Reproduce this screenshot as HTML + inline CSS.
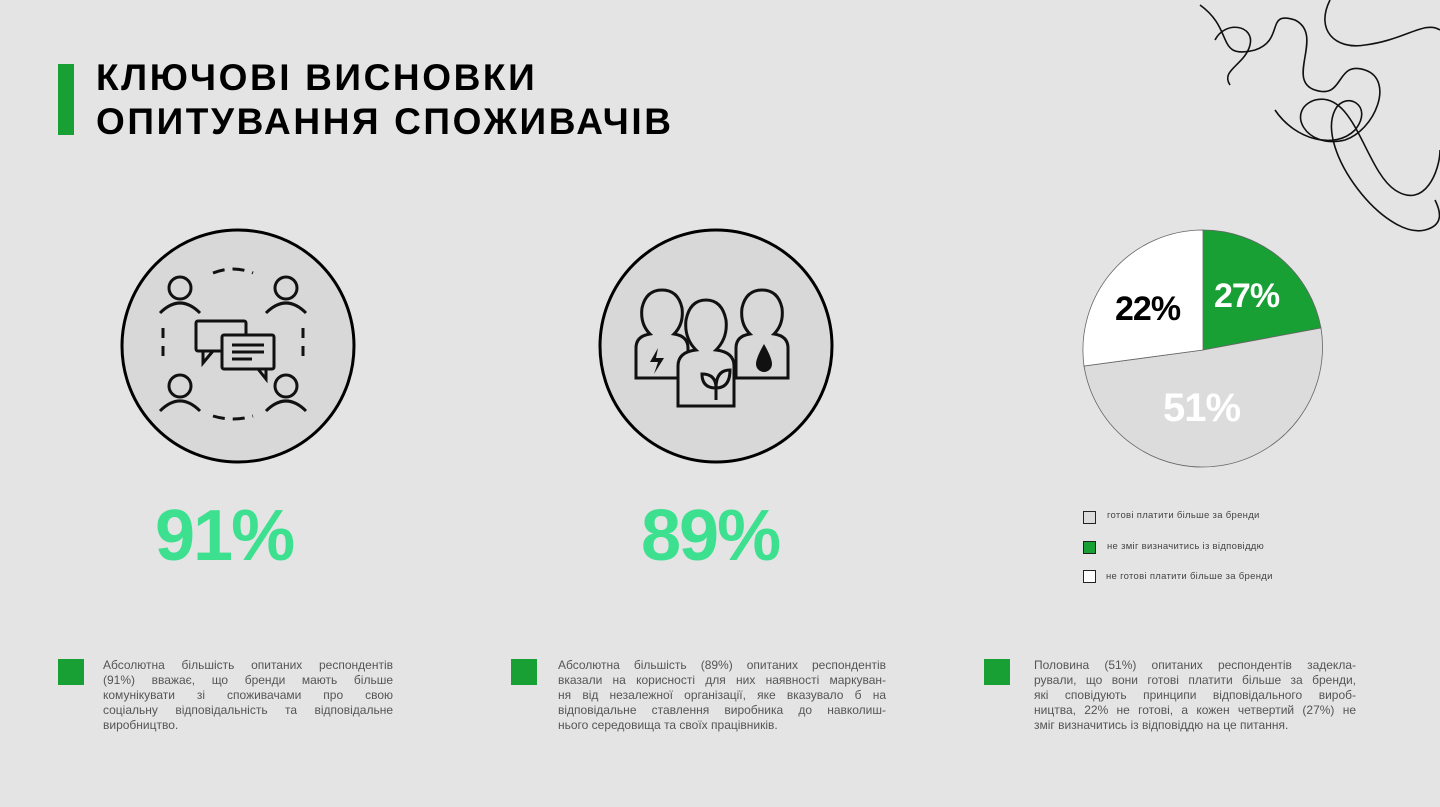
<!DOCTYPE html>
<html><head><meta charset="utf-8"><style>
body{margin:0;width:1440px;height:807px;background:#e4e4e4;position:relative;overflow:hidden;font-family:"Liberation Sans","DejaVu Sans",sans-serif}
.a{position:absolute}
h1{position:absolute;left:96px;top:56px;margin:0;font-size:37px;line-height:44px;font-weight:bold;color:#000;letter-spacing:2.6px}
.big{position:absolute;font-size:72px;font-weight:bold;color:#3de08f;letter-spacing:-2px}
.desc{position:absolute;font-size:12px;line-height:15px;color:#555;width:290px}
.desc div{text-align:justify;text-align-last:justify;white-space:nowrap}
.desc div.l{text-align-last:left}
.sq{position:absolute;width:26px;height:26px;background:#18a034}
.lg{position:absolute;font-size:9.5px;color:#444;letter-spacing:0.3px}
.lb{position:absolute;width:11px;height:11px;border:1px solid #222}
</style></head><body>
<div class="a" style="left:58px;top:64px;width:16px;height:71px;background:#18a034"></div>
<h1>КЛЮЧОВІ ВИСНОВКИ<br>ОПИТУВАННЯ СПОЖИВАЧІВ</h1>

<svg class="a" style="left:1195px;top:0" width="245" height="260" viewBox="0 0 245 260" fill="none" stroke="#111" stroke-width="1.6">
<path d="M5 5 C40 30 20 60 60 50 C90 40 70 10 100 20 C130 35 90 80 120 90 C150 100 140 60 170 70 C200 80 180 130 150 140 C110 150 90 110 120 100 C160 90 170 170 200 190 C230 210 245 170 245 150"/>
<path d="M135 0 C120 30 140 50 170 45 C210 40 230 20 245 30"/>
<path d="M80 110 C100 140 140 150 160 130 C180 105 150 90 140 110 C120 150 190 240 230 230 C250 225 245 210 240 200"/>
<path d="M20 40 C30 20 60 25 55 45 C50 65 25 70 35 85"/>
</svg>

<svg class="a" style="left:118px;top:228px" width="240" height="240">
<circle cx="120" cy="118" r="116" fill="#d8d8d8" stroke="#000" stroke-width="3"/>
<g fill="none" stroke="#111" stroke-width="3">
<circle cx="62" cy="60" r="11"/><path d="M42 85 q20-20 40 0"/>
<circle cx="168" cy="60" r="11"/><path d="M148 85 q20-20 40 0"/>
<circle cx="62" cy="158" r="11"/><path d="M42 183 q20-20 40 0"/>
<circle cx="168" cy="158" r="11"/><path d="M148 183 q20-20 40 0"/>
<path d="M95 45 q20-8 40 0" stroke-dasharray="12 8"/>
<path d="M95 188 q20 6 40 0" stroke-dasharray="12 8"/>
<path d="M45 100 v35" stroke-dasharray="10 8"/><path d="M185 100 v35" stroke-dasharray="10 8"/>
<rect x="78" y="93" width="50" height="30" rx="2"/><path d="M85 123 l0 12 10-12"/>
<rect x="104" y="107" width="52" height="34" rx="2" fill="#d8d8d8"/><path d="M140 141 l8 10 0-10"/>
<path d="M114 117 h32 M114 124 h32 M114 131 h20"/>
</g></svg>

<svg class="a" style="left:596px;top:228px" width="240" height="240">
<circle cx="120" cy="118" r="116" fill="#d8d8d8" stroke="#000" stroke-width="3"/>
<g fill="#d8d8d8" stroke="#111" stroke-width="3">
<path d="M40 150 v-30 q0-12 14-14 q-10-10-8-26 q4-18 20-18 q16 0 20 18 q2 16-8 26 q14 2 14 14 v30 z"/>
<path d="M140 150 v-30 q0-12 14-14 q-10-10-8-26 q4-18 20-18 q16 0 20 18 q2 16-8 26 q14 2 14 14 v30 z"/>
<path d="M82 178 v-40 q0-14 18-16 q-12-12-10-30 q4-20 20-20 q16 0 20 20 q2 18-10 30 q18 2 18 16 v40 z"/>
</g>
<path d="M62 120 l-8 14 h8 l-4 12 10-16 h-8 z M168 116 q-8 14-8 20 a8 8 0 0 0 16 0 q0-6-8-20z" fill="#111"/>
<path d="M120 172 v-15 M120 160 q-14 0-14-14 q14 0 14 14 q0-18 14-18 q0 18-14 18" fill="none" stroke="#111" stroke-width="3"/>
</svg>

<div class="big" style="left:155px;top:495px">91%</div>
<div class="big" style="left:641px;top:495px">89%</div>

<svg class="a" style="left:1080px;top:226px" width="250" height="250">
<g transform="translate(-1080,-226)" stroke="#666" stroke-width="0.8">
<path d="M1203 350 L1203 230 A120 120 0 0 1 1321 328 Z" fill="#18a034"/>
<path d="M1203 350 L1321 328 A120 120 0 1 1 1084 366 Z" fill="#dcdcdc"/>
<path d="M1203 350 L1084 366 A120 120 0 0 1 1203 230 Z" fill="#fff"/>
</g>
<g font-family="Liberation Sans,sans-serif" font-weight="bold" font-size="34" letter-spacing="-1">
<text x="134" y="81" fill="#fff">27%</text>
<text x="35" y="94" fill="#000">22%</text>
<text x="83" y="195" fill="#fff" font-size="40">51%</text>
</g></svg>

<div class="lb" style="left:1083px;top:511px;background:#dcdcdc"></div>
<div class="lg" style="left:1107px;top:510px">готові платити більше за бренди</div>
<div class="lb" style="left:1083px;top:541px;background:#18a034"></div>
<div class="lg" style="left:1107px;top:541px">не зміг визначитись із відповіддю</div>
<div class="lb" style="left:1083px;top:570px;background:#fff"></div>
<div class="lg" style="left:1106px;top:571px">не готові платити більше за бренди</div>

<div class="sq" style="left:58px;top:659px"></div>
<div class="desc" style="left:103px;top:658px;width:290px">
<div>Абсолютна більшість опитаних респондентів</div>
<div>(91%) вважає, що бренди мають більше</div>
<div>комунікувати зі споживачами про свою</div>
<div>соціальну відповідальність та відповідальне</div>
<div class="l">виробництво.</div></div>
<div class="sq" style="left:511px;top:659px"></div>
<div class="desc" style="left:558px;top:658px;width:328px">
<div>Абсолютна більшість (89%) опитаних респондентів</div>
<div>вказали на корисності для них наявності маркуван-</div>
<div>ня від незалежної організації, яке вказувало б на</div>
<div>відповідальне ставлення виробника до навколиш-</div>
<div class="l">нього середовища та своїх працівників.</div></div>
<div class="sq" style="left:984px;top:659px"></div>
<div class="desc" style="left:1034px;top:658px;width:322px">
<div>Половина (51%) опитаних респондентів задекла-</div>
<div>рували, що вони готові платити більше за бренди,</div>
<div>які сповідують принципи відповідального вироб-</div>
<div>ництва, 22% не готові, а кожен четвертий (27%) не</div>
<div class="l">зміг визначитись із відповіддю на це питання.</div></div>
</body></html>
